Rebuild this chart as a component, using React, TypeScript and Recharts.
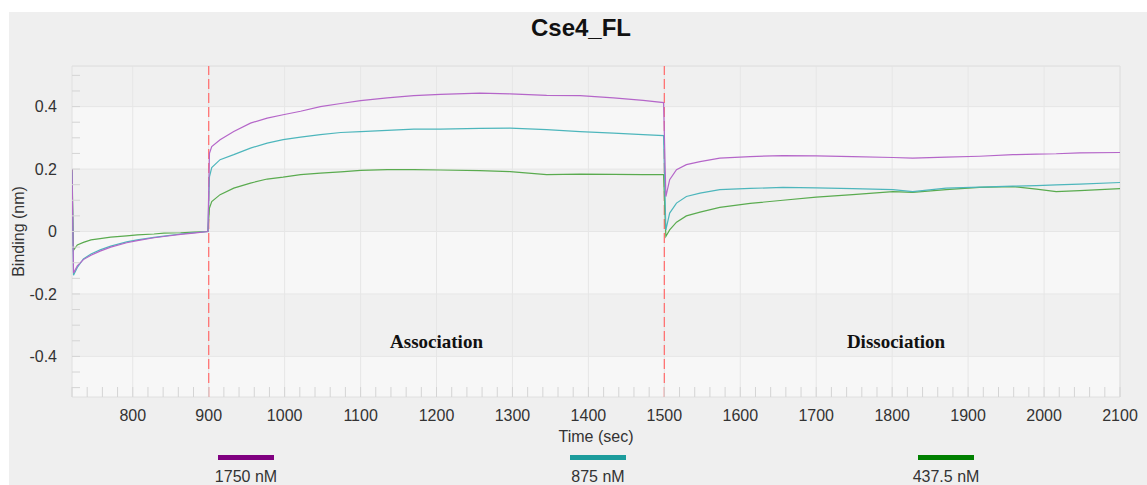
import { LineChart, Line, XAxis, YAxis, CartesianGrid, ReferenceLine, ReferenceArea, ReferenceDot } from "recharts";

// sample times (sec)
const time = [
  720, 722, 727, 735, 745, 757, 771, 792, 806, 828, 841, 863, 880, 899,
  901, 904, 915, 933, 955, 977, 998, 1021, 1047, 1074, 1100, 1135, 1170, 1205,
  1257, 1297, 1345, 1389, 1433, 1472, 1499,
  1502, 1507, 1516, 1529, 1547, 1573, 1613, 1656, 1700, 1748, 1801, 1827, 1871,
  1915, 1959, 1990, 2016, 2047, 2100,
];

// binding (nm) per concentration
const nm1750 = [
  0.2, -0.133, -0.11, -0.09, -0.076, -0.063, -0.05, -0.036, -0.029, -0.02, -0.016, -0.009, -0.005, 0,
  0.25, 0.272, 0.294, 0.32, 0.347, 0.363, 0.374, 0.385, 0.4, 0.41, 0.419, 0.428, 0.435, 0.439,
  0.443, 0.441, 0.436, 0.435, 0.428, 0.42, 0.413,
  0.112, 0.166, 0.198, 0.214, 0.224, 0.235, 0.24, 0.243, 0.242, 0.24, 0.237, 0.235, 0.238,
  0.241, 0.246, 0.248, 0.249, 0.252, 0.253,
];
const nm875 = [
  0.19, -0.14, -0.115, -0.088, -0.072, -0.059, -0.047, -0.033, -0.027, -0.019, -0.015, -0.008, -0.004, 0,
  0.175, 0.205, 0.23, 0.246, 0.267, 0.283, 0.294, 0.302, 0.31, 0.317, 0.32, 0.324, 0.328, 0.328,
  0.33, 0.331, 0.326, 0.32, 0.315, 0.31, 0.307,
  0.005, 0.059, 0.091, 0.112, 0.123, 0.134, 0.138, 0.141, 0.14, 0.137, 0.134, 0.128, 0.139,
  0.142, 0.145, 0.147, 0.149, 0.152, 0.157,
];
const nm437 = [
  0.2, -0.06, -0.043, -0.035, -0.027, -0.023, -0.018, -0.014, -0.011, -0.008, -0.005, -0.004, -0.002, 0,
  0.075, 0.096, 0.118, 0.139, 0.155, 0.168, 0.174, 0.182, 0.187, 0.191, 0.196, 0.198, 0.198, 0.197,
  0.195, 0.192, 0.182, 0.184, 0.183, 0.182, 0.182,
  -0.016, 0.005, 0.03, 0.05, 0.062, 0.077, 0.09, 0.1, 0.11, 0.118, 0.128, 0.125, 0.134,
  0.141, 0.144, 0.136, 0.128, 0.131, 0.137,
];

const majorX = [800, 900, 1000, 1100, 1200, 1300, 1400, 1500, 1600, 1700, 1800, 1900, 2000, 2100];
const majorY = [0.4, 0.2, 0, -0.2, -0.4];
const phaseStarts = [900, 1500];

const legendItems = [
  { label: "1750 nM", color: "#800080", left: 209 },
  { label: "875 nM", color: "#1c9c9c", left: 561 },
  { label: "437.5 nM", color: "#008000", left: 909 },
];

const X_DOMAIN = [720, 2100];
const Y_DOMAIN = [-0.53, 0.53];

const data = time.map((t, i) => ({ t, a: nm1750[i], b: nm875[i], c: nm437[i] }));

// minor ticks every 20 s / 0.05 nm
const minorX: number[] = [];
for (let v = 720; v <= 2100; v += 20) minorX.push(v);
const minorY: number[] = [];
for (let k = -10; k <= 10; k++) minorY.push(Math.round(k * 5) / 100);

const FONT = "'Liberation Sans', Arial, sans-serif";
const TXT = "#333";

// grid positions: use the axis scale when it is callable, else the plot box
const gridX = ({ xAxis, offset }: any) =>
  majorX.map((v) =>
    typeof xAxis?.scale === "function"
      ? xAxis.scale(v)
      : offset.left + ((v - X_DOMAIN[0]) / (X_DOMAIN[1] - X_DOMAIN[0])) * offset.width
  );
// top edge included so the stripes start dark at the top of the plot
const gridY = ({ yAxis, offset }: any) =>
  [Y_DOMAIN[1], ...majorY].map((v) =>
    typeof yAxis?.scale === "function"
      ? yAxis.scale(v)
      : offset.top + ((Y_DOMAIN[1] - v) / (Y_DOMAIN[1] - Y_DOMAIN[0])) * offset.height
  );

const XTick = (props: any) => {
  const { x, y, payload } = props;
  const v = payload.value;
  return (
    <g>
      <line x1={x} x2={x} y1={y - 13} y2={y - 23} stroke="#d4d4d4" />
      {majorX.includes(v) && (
        <text x={x} y={y} dy="0.71em" textAnchor="middle" fontSize={16} fontFamily={FONT} fill={TXT}>
          {v}
        </text>
      )}
    </g>
  );
};

const YTick = (props: any) => {
  const { x, y, payload } = props;
  const v = payload.value;
  const isMajor = majorY.some((m) => Math.abs(m - v) < 1e-9);
  return (
    <g>
      <line x1={x + 15} x2={x + 23} y1={y} y2={y} stroke="#d4d4d4" />
      {isMajor && (
        <text x={x} y={y} dy="0.355em" textAnchor="end" fontSize={16} fontFamily={FONT} fill={TXT}>
          {Math.abs(v) < 1e-9 ? "0" : v.toFixed(1)}
        </text>
      )}
    </g>
  );
};

const phaseLabel = {
  position: "center" as const,
  style: { fontFamily: "'Liberation Serif', 'Times New Roman', serif", fontWeight: "bold", fontSize: 19, fill: "#111" },
};

export default function App() {
  return (
    <div style={{ position: "absolute", left: 9, top: 12, width: 1138, height: 473, background: "#efefef", fontFamily: FONT }}>
      <LineChart width={1138} height={473} data={data} margin={{ top: 54, right: 27, left: 0, bottom: 58 }}>
        <CartesianGrid
          stroke="#e6e6e6"
          horizontalFill={["#f0f0f0", "#f7f7f7"]}
          verticalCoordinatesGenerator={gridX}
          horizontalCoordinatesGenerator={gridY}
        />
        <ReferenceArea x1={720} x2={2100} y1={-0.53} y2={0.53} fill="none" stroke="#e0e0e0" />
        <XAxis
          dataKey="t"
          type="number"
          domain={X_DOMAIN}
          ticks={minorX}
          interval={0}
          tick={<XTick />}
          tickLine={false}
          axisLine={false}
          tickSize={0}
          tickMargin={13}
          height={30}
          allowDataOverflow
          label={{ value: "Time (sec)", position: "bottom", offset: 4, fontSize: 16, fill: TXT, fontFamily: FONT }}
        />
        <YAxis
          type="number"
          domain={Y_DOMAIN}
          ticks={minorY}
          interval={0}
          tick={<YTick />}
          tickLine={false}
          axisLine={false}
          tickSize={0}
          tickMargin={15}
          width={63}
          allowDataOverflow
          label={{ value: "Binding (nm)", angle: -90, position: "insideLeft", offset: 9, fontSize: 16, fill: TXT, fontFamily: FONT, style: { textAnchor: "middle" } }}
        />
        {phaseStarts.map((t) => (
          <ReferenceLine key={t} x={t} stroke="#ff7474" strokeWidth={1.3} strokeDasharray="10 4" />
        ))}
        <ReferenceDot x={1200} y={-0.35} r={0} fill="none" stroke="none" label={{ value: "Association", ...phaseLabel }} />
        <ReferenceDot x={1805} y={-0.35} r={0} fill="none" stroke="none" label={{ value: "Dissociation", ...phaseLabel }} />
        <Line type="linear" dataKey="c" stroke="#5aab4f" strokeWidth={1.2} dot={false} isAnimationActive={false} />
        <Line type="linear" dataKey="b" stroke="#4db6bc" strokeWidth={1.2} dot={false} isAnimationActive={false} />
        <Line type="linear" dataKey="a" stroke="#b566c9" strokeWidth={1.2} dot={false} isAnimationActive={false} />
      </LineChart>
      <div style={{ position: "absolute", zIndex: 2, left: 422, top: 2, width: 300, textAlign: "center", fontSize: 24, fontWeight: "bold", lineHeight: "28px", color: "#111" }}>
        Cse4_FL
      </div>
      {legendItems.map((it) => (
        <div key={it.label} style={{ position: "absolute", zIndex: 2, left: it.left - 40, top: 443, width: 136, textAlign: "center" }}>
          <div style={{ margin: "0 auto", width: 56, height: 5, background: it.color }} />
          <div style={{ marginTop: 8, fontSize: 16, lineHeight: "18px", color: TXT }}>{it.label}</div>
        </div>
      ))}
    </div>
  );
}
